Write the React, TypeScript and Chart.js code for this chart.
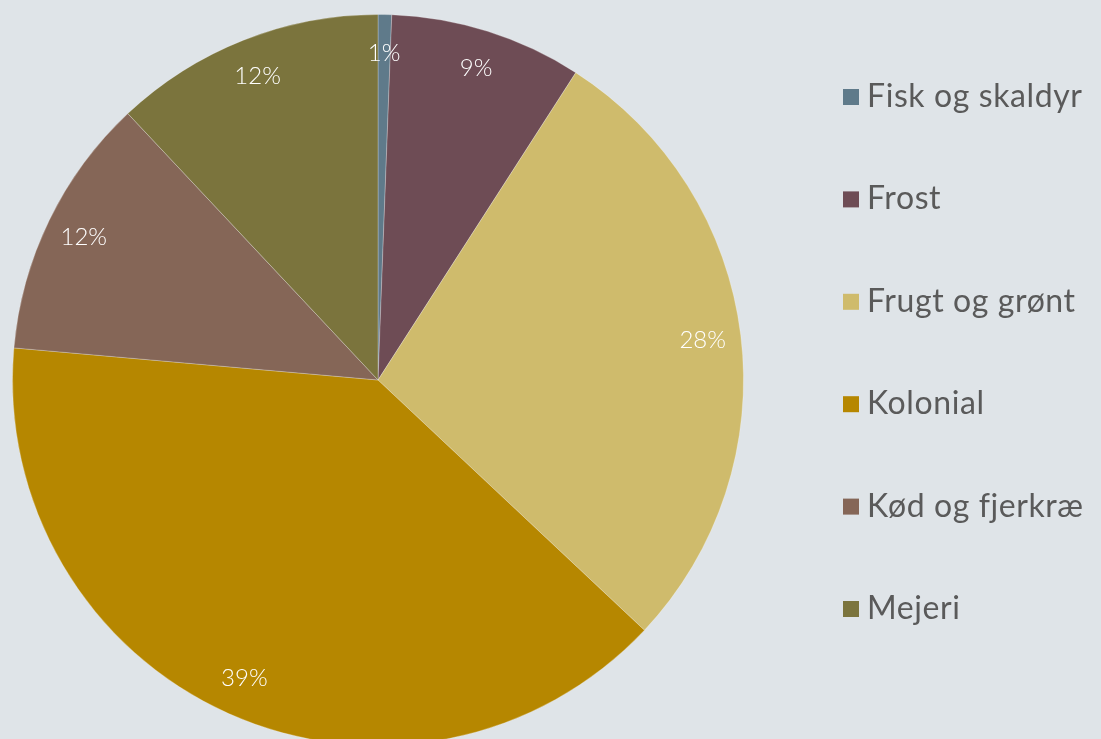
import React, { useEffect, useRef } from "react";
import { Chart, registerables } from "chart.js";

Chart.register(...registerables);

const categories = ["Fisk og skaldyr", "Frost", "Frugt og grønt", "Kolonial", "Kød og fjerkræ", "Mejeri"];
const shares = [0.6, 8.5, 27.9, 39.4, 11.6, 12.0];
const percentLabels = ["1%", "9%", "28%", "39%", "12%", "12%"];
const sliceColors = ["#5f7a8a", "#6e4c55", "#cfbb6c", "#b68700", "#856657", "#7b743d"];

const BG = "#dfe4e8";
const FONT = "Lato, 'Open Sans', sans-serif";

const sliceLabelPlugin = {
  id: "sliceLabels",
  afterDatasetsDraw(chart: any) {
    const ctx = chart.ctx;
    const meta = chart.getDatasetMeta(0);
    ctx.save();
    ctx.fillStyle = "#ffffff";
    ctx.font = `300 24px ${FONT}`;
    ctx.textAlign = "center";
    ctx.textBaseline = "middle";
    meta.data.forEach((arc: any, i: number) => {
      const p = arc.getProps(["x", "y", "startAngle", "endAngle", "outerRadius"], true);
      const mid = (p.startAngle + p.endAngle) / 2;
      const r = p.outerRadius * 0.895;
      ctx.fillText(percentLabels[i], p.x + Math.cos(mid) * r, p.y + Math.sin(mid) * r);
    });
    ctx.restore();
  },
};

const legendPlugin = {
  id: "sideLegend",
  afterDraw(chart: any) {
    const ctx = chart.ctx;
    const labels = chart.data.labels as string[];
    const colors = chart.data.datasets[0].backgroundColor as string[];
    const left = 843;
    const firstBaseline = 107;
    const step = 102.4;
    ctx.save();
    ctx.font = `400 32px ${FONT}`;
    ctx.textAlign = "left";
    ctx.textBaseline = "alphabetic";
    try {
      (ctx as any).letterSpacing = "0.6px";
    } catch (e) {}
    labels.forEach((lab, i) => {
      const base = firstBaseline + i * step;
      ctx.fillStyle = colors[i];
      ctx.fillRect(left, base - 18, 16, 16);
      ctx.fillStyle = "#5a5a5a";
      ctx.fillText(lab, left + 24, base);
    });
    ctx.restore();
  },
};

export default function App() {
  const canvasRef = useRef<HTMLCanvasElement | null>(null);

  useEffect(() => {
    if (!canvasRef.current) return;
    const chart = new Chart(canvasRef.current, {
      type: "pie",
      data: {
        labels: categories,
        datasets: [
          {
            data: shares,
            backgroundColor: sliceColors,
            borderColor: "rgba(255,255,255,0.25)",
            borderWidth: 1,
          },
        ],
      },
      options: {
        responsive: false,
        animation: false,
        layout: { padding: { left: 12, top: 14, bottom: 14, right: 357 } },
        plugins: {
          legend: { display: false },
          tooltip: { enabled: false },
        },
      },
      plugins: [sliceLabelPlugin, legendPlugin],
    });
    return () => chart.destroy();
  }, []);

  return (
    <div
      style={{
        position: "fixed",
        left: 0,
        top: 0,
        width: 1101,
        height: 739,
        overflow: "hidden",
        background: BG,
      }}
    >
      <canvas ref={canvasRef} width={1101} height={760} style={{ display: "block", width: 1101, height: 760 }} />
    </div>
  );
}
